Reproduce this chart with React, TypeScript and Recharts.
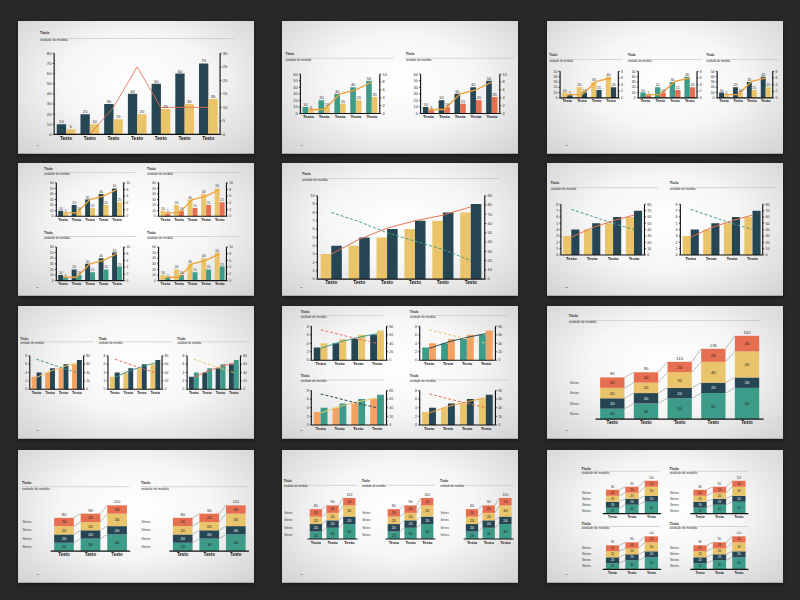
import React from 'react';
import { ComposedChart, BarChart, Bar, Line, XAxis, YAxis, LabelList } from 'recharts';

const FONT = '"Liberation Sans", Arial, Helvetica, sans-serif';

const NAVY = '#264653';
const TEAL = '#3d9c89';
const GOLD = '#e9c46a';
const SAND = '#f4a261';
const CORAL = '#e76f51';
const AMBER = '#efa23a';

// categories
const cats7 = ['Texto', 'Texto', 'Texto', 'Texto', 'Texto', 'Texto', 'Texto'];
const cats6 = ['Texto', 'Texto', 'Texto', 'Texto', 'Texto', 'Texto'];
const cats5 = ['Texto', 'Texto', 'Texto', 'Texto', 'Texto'];
const cats4 = ['Texto', 'Texto', 'Texto', 'Texto'];
const cats3 = ['Texto', 'Texto', 'Texto'];

// big combo chart (slide 1)
const mainBars = [10, 20, 30, 40, 50, 60, 70];
const halfBars = [5, 10, 15, 20, 25, 30, 35];
const peakLine = [0, 0, 10, 25, 10, 10, 10];

// small combo charts with value labels
const tall5 = [10, 20, 30, 40, 50];
const short5 = [5, 10, 15, 20, 25];
const trend5 = [1, 1, 5, 6, 8];
const tall4 = [10, 20, 30, 40];
const short4 = [5, 10, 15, 20];
const trend4 = [1, 1, 5, 6];

// bars with two trend lines
const low6 = [3, 4, 5, 6, 7, 8];
const high6 = [4, 5, 6, 7, 8, 9];
const rise6 = [27, 43, 55, 63, 69, 78];
const fall6 = [72, 62, 50, 41, 32, 20];
const low4 = [3, 4, 5, 6];
const high4 = [4, 5, 6, 7];
const rise4 = [28, 43, 54, 63];
const fall4 = [72, 61, 50, 40];

// stacked charts, bottom to top
const base5 = [20, 30, 40, 50, 60];
const core5 = [20, 20, 20, 20, 20];
const mid5 = [20, 20, 30, 40, 50];
const cap5 = [20, 20, 20, 25, 30];
const base3 = [20, 30, 40];
const core3 = [20, 20, 20];
const mid3 = [20, 20, 30];
const cap3 = [20, 20, 20];

// axis ticks
const t80by10 = [0, 10, 20, 30, 40, 50, 60, 70, 80];
const t30by5 = [0, 5, 10, 15, 20, 25, 30];
const t60by10 = [0, 10, 20, 30, 40, 50, 60];
const t10by2 = [0, 2, 4, 6, 8, 10];
const t50by10 = [0, 10, 20, 30, 40, 50];
const t8by2 = [0, 2, 4, 6, 8];
const t10by1 = [0, 1, 2, 3, 4, 5, 6, 7, 8, 9, 10];
const t90by10 = [0, 10, 20, 30, 40, 50, 60, 70, 80, 90];
const t8by1 = [0, 1, 2, 3, 4, 5, 6, 7, 8];
const t80by20 = [0, 20, 40, 60, 80];

const pages = ['16', '17', '18', '20', '21', '22', '23', '25', '27', '32', '33', '34'];

const SCALE = 236 / 960;
const slideX = [18, 282, 547];
const slideY = [21, 163, 306, 450];

type Series = { values: number[]; color: string; dashed?: boolean };

function TitleBlock({ spec }: { spec: number[] }) {
  const [x, cy, ry, w, f] = spec;
  return (
    <>
      <div style={{ position: 'absolute', left: x, top: cy - f * 0.6, fontSize: f, lineHeight: `${f * 1.2}px`, fontWeight: 700, color: '#222', whiteSpace: 'nowrap' }}>
        Título
      </div>
      <div style={{ position: 'absolute', left: x, top: ry, width: w, height: 0, borderTop: '2px solid #b3b3b3' }} />
      <div style={{ position: 'absolute', left: x, top: ry, fontSize: f * 0.95, lineHeight: `${f * 1.1}px`, color: '#333', whiteSpace: 'nowrap' }}>
        unidade de medida
      </div>
    </>
  );
}

type ComboProps = {
  title: number[];
  plot: number[];
  cats: string[];
  bars: Series[];
  lines: Series[];
  leftTicks: number[];
  rightTicks: number[];
  tickFont: number;
  catFont: number;
  gap: string;
  lineWidth: number;
  values?: boolean;
};

function Combo({ title, plot, cats, bars, lines, leftTicks, rightTicks, tickFont, catFont, gap, lineWidth, values }: ComboProps) {
  const [l, r, t, b] = plot;
  const yw = tickFont * 2.3;
  const mt = tickFont * 1.2;
  const xh = catFont * 2;
  const rows = cats.map((name, i) => {
    const row: Record<string, any> = { name };
    bars.forEach((s, j) => { row[`bar${j}`] = s.values[i]; });
    lines.forEach((s, j) => { row[`line${j}`] = s.values[i]; });
    return row;
  });
  const axisLine = { stroke: '#111', strokeWidth: 4.5 };
  const numTick = { fill: '#2a2a2a', fontSize: tickFont };
  return (
    <>
      <TitleBlock spec={title} />
      <div style={{ position: 'absolute', left: l - yw, top: t - mt }}>
        <ComposedChart
          width={r - l + 2 * yw}
          height={b - t + mt + xh}
          data={rows}
          margin={{ top: mt, right: 0, bottom: 0, left: 0 }}
          barGap={0}
          barCategoryGap={gap}
        >
          <XAxis dataKey="name" axisLine={axisLine} tickLine={false} interval={0} height={xh} tick={{ fill: '#111', fontSize: catFont, fontWeight: 700 }} />
          <YAxis yAxisId="left" width={yw} domain={[0, leftTicks[leftTicks.length - 1]]} ticks={leftTicks} interval={0}
            axisLine={axisLine} tickLine={{ stroke: '#111', strokeWidth: 3 }} tickSize={6} tickMargin={5} tick={numTick} />
          <YAxis yAxisId="right" orientation="right" width={yw} domain={[0, rightTicks[rightTicks.length - 1]]} ticks={rightTicks} interval={0}
            axisLine={axisLine} tickLine={{ stroke: '#111', strokeWidth: 3 }} tickSize={6} tickMargin={5} tick={numTick} />
          {bars.map((s, j) => (
            <Bar key={`b${j}`} yAxisId="left" dataKey={`bar${j}`} fill={s.color} isAnimationActive={false}>
              {values && <LabelList dataKey={`bar${j}`} position="top" offset={4} fill="#2a2a2a" fontSize={tickFont} />}
            </Bar>
          ))}
          {lines.map((s, j) => (
            <Line
              key={`l${j}`}
              yAxisId="right"
              type="linear"
              dataKey={`line${j}`}
              stroke={s.color}
              strokeWidth={lineWidth}
              strokeDasharray={s.dashed ? `${lineWidth * 3} ${lineWidth * 2}` : undefined}
              dot={false}
              activeDot={false}
              isAnimationActive={false}
            />
          ))}
        </ComposedChart>
      </div>
    </>
  );
}

const LAYER_COLORS = [TEAL, NAVY, GOLD, CORAL];
const LAYER_TEXT = ['#1c1c1c', '#ffffff', '#1c1c1c', '#1c1c1c'];

type StackProps = {
  title: number[];
  plot: number[];
  labelX: number;
  cats: string[];
  layers: number[][];
  max: number;
  catFont: number;
  valueFont: number;
  seriesFont: number;
  gap: string;
};

function Stack({ title, plot, labelX, cats, layers, max, catFont, valueFont, seriesFont, gap }: StackProps) {
  const [l, r, t, b] = plot;
  const n = cats.length;
  const band = (r - l) / n;
  const yw = l - labelX;
  const mt = valueFont * 1.6;
  const xh = catFont * 2;
  const upTo = (i: number, k: number) => layers.slice(0, k + 1).reduce((s, layer) => s + layer[i], 0);
  const rows = cats.map((name, i) => {
    const row: Record<string, any> = { name, total: upTo(i, layers.length - 1) };
    layers.forEach((layer, k) => { row[`s${k}`] = layer[i]; });
    return row;
  });
  // "Séries" labels sit level with the segments of the first bar
  const seriesTicks = layers.map((layer, k) => upTo(0, k) - layer[0] / 2);

  const segment = (k: number) => (sp: any) => {
    const { x, y, width, height, index } = sp;
    const unit = height / layers[k][index];
    const zero = y + upTo(index, k) * unit;
    const link = index < n - 1
      ? <line x1={x + width} y1={y} x2={x + band} y2={zero - upTo(index + 1, k) * unit} stroke="#7a7a7a" strokeWidth={2} />
      : null;
    return (
      <g>
        <rect x={x} y={y} width={width} height={height} fill={LAYER_COLORS[k]} />
        {link}
      </g>
    );
  };

  return (
    <>
      <TitleBlock spec={title} />
      <div style={{ position: 'absolute', left: labelX, top: t - mt }}>
        <BarChart width={r - labelX} height={b - t + mt + xh} data={rows} margin={{ top: mt, right: 0, bottom: 0, left: 0 }} barCategoryGap={gap}>
          <XAxis dataKey="name" axisLine={{ stroke: '#111', strokeWidth: 5 }} tickLine={false} interval={0} height={xh} tick={{ fill: '#111', fontSize: catFont, fontWeight: 700 }} />
          <YAxis
            width={yw}
            domain={[0, max]}
            ticks={seriesTicks}
            interval={0}
            axisLine={false}
            tickLine={false}
            tick={(tp: any) => (
              <text x={2} y={tp.y} dy="0.35em" fontSize={seriesFont} fill="#333">Séries</text>
            )}
          />
          {layers.map((_, k) => (
            <Bar key={k} dataKey={`s${k}`} stackId="stack" fill={LAYER_COLORS[k]} shape={segment(k)} isAnimationActive={false}>
              <LabelList dataKey={`s${k}`} position="center" fill={LAYER_TEXT[k]} fontSize={valueFont} />
              {k === layers.length - 1 && <LabelList dataKey="total" position="top" offset={8} fill="#333" fontSize={valueFont} />}
            </Bar>
          ))}
        </BarChart>
      </div>
    </>
  );
}

function Slide({ col, row, page, children }: { col: number; row: number; page: string; children: React.ReactNode }) {
  return (
    <div style={{ position: 'absolute', left: slideX[col], top: slideY[row], width: 236, height: 133, overflow: 'hidden', boxShadow: '0 1px 3px rgba(0,0,0,0.5)' }}>
      <div
        style={{
          position: 'absolute', left: 0, top: 0, width: 960, height: 540,
          transform: `scale(${SCALE})`, transformOrigin: '0 0',
          background: 'radial-gradient(ellipse at 50% 45%, #ffffff 0%, #f6f6f6 45%, #d2d2d2 100%)',
          fontFamily: FONT,
        }}
      >
        {children}
        <div style={{ position: 'absolute', left: 74, top: 500, fontSize: 10, color: '#555' }}>{page}</div>
      </div>
    </div>
  );
}

export default function App() {
  const stack5 = [base5, core5, mid5, cap5];
  const stack3 = [base3, core3, mid3, cap3];
  return (
    <div style={{ position: 'absolute', left: 0, top: 0, width: 800, height: 600, background: '#282828', overflow: 'hidden', fontFamily: FONT }}>
      {/* row 1 */}
      <Slide col={0} row={0} page={pages[0]}>
        <Combo title={[89, 49, 70, 794, 14]} plot={[147, 822, 131, 461]} cats={cats7}
          bars={[{ values: mainBars, color: NAVY }, { values: halfBars, color: GOLD }]}
          lines={[{ values: peakLine, color: CORAL }]}
          leftTicks={t80by10} rightTicks={t30by5} tickFont={17} catFont={19} gap="11%" lineWidth={3.5} values />
      </Slide>
      <Slide col={1} row={0} page={pages[1]}>
        <Combo title={[14, 133, 150, 440, 13]} plot={[75, 398, 216, 376]} cats={cats5}
          bars={[{ values: tall5, color: TEAL }, { values: short5, color: GOLD }]}
          lines={[{ values: trend5, color: AMBER }]}
          leftTicks={t60by10} rightTicks={t10by2} tickFont={16} catFont={17} gap="14%" lineWidth={5.5} values />
        <Combo title={[503, 133, 150, 441, 13]} plot={[564, 886, 216, 376]} cats={cats5}
          bars={[{ values: tall5, color: NAVY }, { values: short5, color: CORAL }]}
          lines={[{ values: trend5, color: AMBER }]}
          leftTicks={t60by10} rightTicks={t10by2} tickFont={16} catFont={17} gap="14%" lineWidth={5.5} values />
      </Slide>
      <Slide col={2} row={0} page={pages[2]}>
        <Combo title={[9, 140, 155, 299, 12]} plot={[53, 290, 205, 313]} cats={cats4}
          bars={[{ values: tall4, color: GOLD }, { values: short4, color: NAVY }]}
          lines={[{ values: trend4, color: AMBER }]}
          leftTicks={t50by10} rightTicks={t8by2} tickFont={14} catFont={15} gap="14%" lineWidth={5.5} values />
        <Combo title={[328, 140, 155, 300, 12]} plot={[371, 610, 205, 313]} cats={cats4}
          bars={[{ values: tall4, color: TEAL }, { values: short4, color: CORAL }]}
          lines={[{ values: trend4, color: AMBER }]}
          leftTicks={t50by10} rightTicks={t8by2} tickFont={14} catFont={15} gap="14%" lineWidth={5.5} values />
        <Combo title={[648, 140, 155, 295, 12]} plot={[692, 918, 205, 313]} cats={cats4}
          bars={[{ values: tall4, color: NAVY }, { values: short4, color: GOLD }]}
          lines={[{ values: trend4, color: AMBER }]}
          leftTicks={t50by10} rightTicks={t8by2} tickFont={14} catFont={15} gap="14%" lineWidth={5.5} values />
      </Slide>

      {/* row 2 */}
      <Slide col={0} row={1} page={pages[3]}>
        <Combo title={[106, 23, 37, 375, 13]} plot={[156, 430, 81, 217]} cats={cats5}
          bars={[{ values: tall5, color: NAVY }, { values: short5, color: GOLD }]}
          lines={[{ values: trend5, color: AMBER }]}
          leftTicks={t60by10} rightTicks={t10by2} tickFont={13} catFont={15} gap="14%" lineWidth={5.5} values />
        <Combo title={[525, 23, 37, 377, 13]} plot={[572, 848, 81, 217]} cats={cats5}
          bars={[{ values: tall5, color: GOLD }, { values: short5, color: CORAL }]}
          lines={[{ values: trend5, color: AMBER }]}
          leftTicks={t60by10} rightTicks={t10by2} tickFont={13} catFont={15} gap="14%" lineWidth={5.5} values />
        <Combo title={[106, 285, 299, 375, 13]} plot={[156, 430, 342, 479]} cats={cats5}
          bars={[{ values: tall5, color: NAVY }, { values: short5, color: TEAL }]}
          lines={[{ values: trend5, color: AMBER }]}
          leftTicks={t60by10} rightTicks={t10by2} tickFont={13} catFont={15} gap="14%" lineWidth={5.5} values />
        <Combo title={[525, 285, 299, 377, 13]} plot={[572, 848, 342, 479]} cats={cats5}
          bars={[{ values: tall5, color: GOLD }, { values: short5, color: TEAL }]}
          lines={[{ values: trend5, color: AMBER }]}
          leftTicks={t60by10} rightTicks={t10by2} tickFont={13} catFont={15} gap="14%" lineWidth={5.5} values />
      </Slide>
      <Slide col={1} row={1} page={pages[4]}>
        <Combo title={[81, 45, 61, 803, 13]} plot={[144, 825, 133, 472]} cats={cats6}
          bars={[{ values: low6, color: GOLD }, { values: high6, color: NAVY }]}
          lines={[{ values: rise6, color: CORAL }, { values: fall6, color: TEAL, dashed: true }]}
          leftTicks={t10by1} rightTicks={t90by10} tickFont={16} catFont={19} gap="12%" lineWidth={4} />
      </Slide>
      <Slide col={2} row={1} page={pages[5]}>
        <Combo title={[14, 83, 100, 436, 13]} plot={[56, 396, 168, 374]} cats={cats4}
          bars={[{ values: low4, color: GOLD }, { values: high4, color: NAVY }]}
          lines={[{ values: rise4, color: CORAL }, { values: fall4, color: TEAL, dashed: true }]}
          leftTicks={t8by1} rightTicks={t80by10} tickFont={15} catFont={17} gap="11%" lineWidth={4} />
        <Combo title={[499, 83, 100, 437, 13]} plot={[542, 877, 168, 374]} cats={cats4}
          bars={[{ values: low4, color: GOLD }, { values: high4, color: NAVY }]}
          lines={[{ values: rise4, color: CORAL }, { values: fall4, color: TEAL, dashed: true }]}
          leftTicks={t8by1} rightTicks={t80by10} tickFont={15} catFont={17} gap="11%" lineWidth={4} />
      </Slide>

      {/* row 3 */}
      <Slide col={0} row={2} page={pages[6]}>
        <Combo title={[9, 133, 145, 299, 12]} plot={[48, 267, 203, 339]} cats={cats4}
          bars={[{ values: low4, color: SAND }, { values: high4, color: NAVY }]}
          lines={[{ values: rise4, color: GOLD }, { values: fall4, color: TEAL, dashed: true }]}
          leftTicks={t8by2} rightTicks={t80by20} tickFont={13} catFont={15} gap="14%" lineWidth={4} />
        <Combo title={[328, 133, 145, 299, 12]} plot={[366, 586, 203, 339]} cats={cats4}
          bars={[{ values: low4, color: GOLD }, { values: high4, color: NAVY }]}
          lines={[{ values: rise4, color: TEAL }, { values: fall4, color: CORAL, dashed: true }]}
          leftTicks={t8by2} rightTicks={t80by20} tickFont={13} catFont={15} gap="14%" lineWidth={4} />
        <Combo title={[648, 133, 145, 295, 12]} plot={[688, 905, 203, 339]} cats={cats4}
          bars={[{ values: low4, color: NAVY }, { values: high4, color: TEAL }]}
          lines={[{ values: rise4, color: CORAL }, { values: fall4, color: GOLD, dashed: true }]}
          leftTicks={t8by2} rightTicks={t80by20} tickFont={13} catFont={15} gap="14%" lineWidth={4} />
      </Slide>
      <Slide col={1} row={2} page={pages[7]}>
        <Combo title={[76, 23, 38, 342, 13]} plot={[119, 425, 83, 221]} cats={cats4}
          bars={[{ values: low4, color: NAVY }, { values: high4, color: GOLD }]}
          lines={[{ values: rise4, color: TEAL }, { values: fall4, color: CORAL, dashed: true }]}
          leftTicks={t8by2} rightTicks={t80by20} tickFont={14} catFont={16} gap="13%" lineWidth={4} />
        <Combo title={[520, 23, 38, 399, 13]} plot={[560, 868, 83, 221]} cats={cats4}
          bars={[{ values: low4, color: TEAL }, { values: high4, color: SAND }]}
          lines={[{ values: rise4, color: NAVY }, { values: fall4, color: GOLD, dashed: true }]}
          leftTicks={t8by2} rightTicks={t80by20} tickFont={14} catFont={16} gap="13%" lineWidth={4} />
        <Combo title={[76, 285, 300, 342, 13]} plot={[119, 425, 344, 484]} cats={cats4}
          bars={[{ values: low4, color: SAND }, { values: high4, color: TEAL }]}
          lines={[{ values: rise4, color: GOLD }, { values: fall4, color: NAVY, dashed: true }]}
          leftTicks={t8by2} rightTicks={t80by20} tickFont={14} catFont={16} gap="13%" lineWidth={4} />
        <Combo title={[520, 285, 300, 399, 13]} plot={[560, 868, 344, 484]} cats={cats4}
          bars={[{ values: low4, color: GOLD }, { values: high4, color: NAVY }]}
          lines={[{ values: rise4, color: AMBER }, { values: fall4, color: CORAL, dashed: true }]}
          leftTicks={t8by2} rightTicks={t80by20} tickFont={14} catFont={16} gap="13%" lineWidth={4} />
      </Slide>
      <Slide col={2} row={2} page={pages[8]}>
        <Stack title={[88, 39, 57, 777, 14]} plot={[197, 882, 121, 460]} labelX={91} cats={cats5}
          layers={stack5} max={160} catFont={18} valueFont={17} seriesFont={13} gap="14%" />
      </Slide>

      {/* row 4 */}
      <Slide col={0} row={3} page={pages[9]}>
        <Stack title={[16, 133, 149, 436, 14]} plot={[133, 457, 225, 411]} labelX={16} cats={cats3}
          layers={stack3} max={110} catFont={18} valueFont={17} seriesFont={13} gap="13%" />
        <Stack title={[500, 133, 149, 436, 14]} plot={[616, 940, 225, 411]} labelX={500} cats={cats3}
          layers={stack3} max={110} catFont={18} valueFont={17} seriesFont={13} gap="13%" />
      </Slide>
      <Slide col={1} row={3} page={pages[10]}>
        <Stack title={[7, 128, 142, 298, 12]} plot={[104, 308, 195, 362]} labelX={7} cats={cats3}
          layers={stack3} max={110} catFont={16} valueFont={15} seriesFont={12} gap="13%" />
        <Stack title={[324, 128, 142, 298, 12]} plot={[421, 625, 195, 362]} labelX={324} cats={cats3}
          layers={stack3} max={110} catFont={16} valueFont={15} seriesFont={12} gap="13%" />
        <Stack title={[643, 128, 142, 298, 12]} plot={[739, 943, 195, 362]} labelX={643} cats={cats3}
          layers={stack3} max={110} catFont={16} valueFont={15} seriesFont={12} gap="13%" />
      </Slide>
      <Slide col={2} row={3} page={pages[11]}>
        <Stack title={[140, 76, 85, 321, 14]} plot={[227, 464, 125, 259]} labelX={140} cats={cats3}
          layers={stack3} max={110} catFont={14} valueFont={12} seriesFont={13} gap="16%" />
        <Stack title={[498, 76, 85, 320, 14]} plot={[583, 820, 125, 259]} labelX={498} cats={cats3}
          layers={stack3} max={110} catFont={14} valueFont={12} seriesFont={13} gap="16%" />
        <Stack title={[140, 302, 311, 321, 14]} plot={[227, 464, 351, 485]} labelX={140} cats={cats3}
          layers={stack3} max={110} catFont={14} valueFont={12} seriesFont={13} gap="16%" />
        <Stack title={[498, 302, 311, 320, 14]} plot={[583, 820, 351, 485]} labelX={498} cats={cats3}
          layers={stack3} max={110} catFont={14} valueFont={12} seriesFont={13} gap="16%" />
      </Slide>
    </div>
  );
}
